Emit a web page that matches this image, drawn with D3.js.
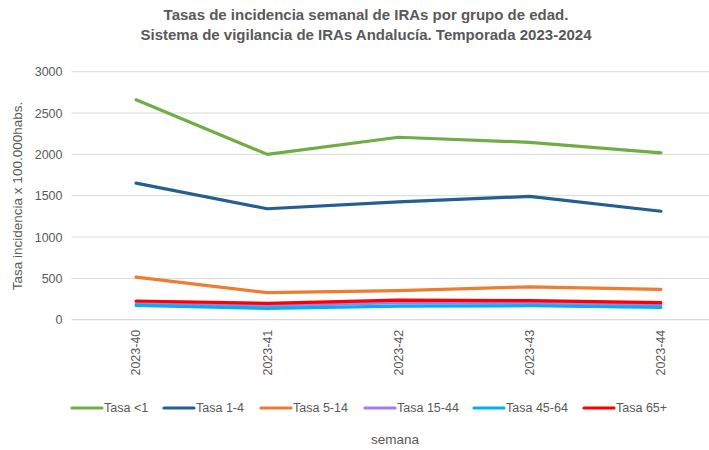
<!DOCTYPE html>
<html><head><meta charset="utf-8">
<script src="https://cdn.jsdelivr.net/npm/d3@7"></script>
<style>body{margin:0;background:#fff}svg{display:block}text{font-family:"Liberation Sans",Arial,sans-serif}</style>
</head><body><svg id="c" width="709" height="450"></svg>
<script>
const weeks = ["2023-40","2023-41","2023-42","2023-43","2023-44"];
const seriesNames = ["Tasa <1","Tasa 1-4","Tasa 5-14","Tasa 15-44","Tasa 45-64","Tasa 65+"];
const tasaMenor1 = [2660, 2000, 2207, 2146, 2018];
const tasa1a4 = [1652, 1342, 1425, 1492, 1312];
const tasa5a14 = [516, 327, 351, 398, 367];
const tasa15a44 = [195, 168, 205, 198, 178];
const tasa45a64 = [173, 137, 165, 169, 149];
const tasa65mas = [226, 198, 236, 230, 206];
const yTicks = [0, 500, 1000, 1500, 2000, 2500, 3000];
const colors = ["#70AD47","#255E91","#ED7D31","#A57BEC","#00B0F0","#FF0000"];

const data = [tasaMenor1, tasa1a4, tasa5a14, tasa15a44, tasa45a64, tasa65mas];
const svg = d3.select("#c");
const x = d3.scaleBand().domain(weeks).range([70.5, 726.5]);
const y = d3.scaleLinear().domain([0, 3000]).range([319.7, 71.7]);

// title
const title = svg.append("text").attr("text-anchor","middle").attr("fill","#595959")
  .attr("font-weight","bold").attr("font-size","15px");
title.append("tspan").attr("x",366).attr("y",20).text("Tasas de incidencia semanal de IRAs por grupo de edad.");
title.append("tspan").attr("x",366).attr("y",40).text("Sistema de vigilancia de IRAs Andalucía. Temporada 2023-2024");

// gridlines
svg.append("g").selectAll("line").data(yTicks.filter(d=>d>0)).join("line")
  .attr("x1",71.5).attr("x2",709).attr("y1",d=>y(d)).attr("y2",d=>y(d))
  .attr("stroke","#d9d9d9").attr("stroke-width",1);

// y axis
const yAxis = svg.append("g").attr("transform","translate(71.5,0)")
  .call(d3.axisLeft(y).tickValues(yTicks).tickSize(0).tickPadding(9).tickFormat(d3.format("d")));
yAxis.select(".domain").remove();
yAxis.selectAll("text").attr("fill","#595959").attr("font-size","12.5px");

// x axis
const xAxis = svg.append("g").attr("transform","translate(0,319.7)")
  .call(d3.axisBottom(x).tickSize(0).tickPadding(0));
xAxis.select(".domain").attr("stroke","#d9d9d9").attr("stroke-width",1.3)
  .attr("d","M71.5,0H709");
xAxis.selectAll("text").attr("fill","#595959").attr("font-size","12.5px")
  .attr("text-anchor","end").attr("transform","rotate(-90)")
  .attr("x",-10).attr("y",0).attr("dy","0.35em");

// lines
const line = d3.line().x((d,i)=>x(weeks[i])+x.bandwidth()/2).y(d=>y(d));
svg.append("g").selectAll("path").data(data).join("path")
  .attr("d",line).attr("fill","none")
  .attr("stroke",(d,i)=>colors[i]).attr("stroke-width",3.2)
  .attr("stroke-linejoin","round").attr("stroke-linecap","round");

// y title
svg.append("text").attr("transform","translate(22,196) rotate(-90)")
  .attr("text-anchor","middle").attr("fill","#595959").attr("font-size","13.5px")
  .text("Tasa incidencia x 100.000habs.");

// x title
svg.append("text").attr("x",395).attr("y",444).attr("text-anchor","middle")
  .attr("fill","#595959").attr("font-size","13.5px").text("semana");

// legend
const legX = [72, 164, 261, 365, 474, 584];
const leg = svg.append("g").selectAll("g").data(seriesNames).join("g")
  .attr("transform",(d,i)=>`translate(${legX[i]},408)`);
leg.append("line").attr("x1",0).attr("x2",30).attr("y1",0).attr("y2",0)
  .attr("stroke",(d,i)=>colors[i]).attr("stroke-width",3.2).attr("stroke-linecap","round");
leg.append("text").attr("x",32).attr("y",0).attr("dy","0.35em")
  .attr("fill","#595959").attr("font-size","12.5px").text(d=>d);
</script></body></html>
